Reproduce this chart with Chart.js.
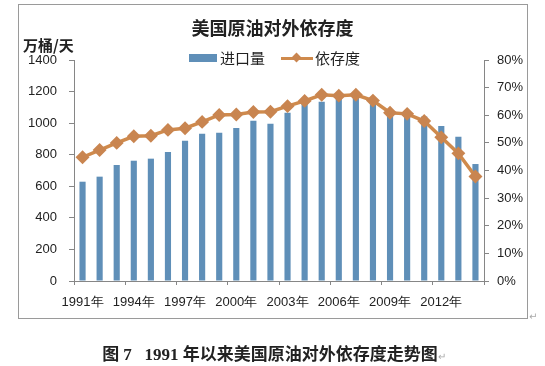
<!DOCTYPE html>
<html>
<head>
<meta charset="utf-8">
<script src="https://cdn.jsdelivr.net/npm/chart.js@4/dist/chart.umd.min.js"></script>
<style>
  body { margin: 0; background: #fff; }
  #wrap { position: relative; width: 545px; height: 366px; }
  #frame { position: absolute; left: 18px; top: 4px; width: 508px; height: 313px; border: 1px solid #9a9a9a; }
  #chart { position: absolute; left: 0; top: 0; }
  .txt { position: absolute; white-space: nowrap; color: #222; font-family: "Noto Sans CJK SC", sans-serif; }
  #unit { left: 23px; top: 35px; font-size: 15px; font-weight: bold; line-height: 20px; }
  #legend { left: 189px; top: 48px; font-size: 15px; line-height: 20px; }
  #legend span { position: absolute; top: 0; }
  .mark { position: absolute; color: #aaa; font-size: 10px; font-family: "DejaVu Sans", sans-serif; }
  #caption { left: 0; width: 548px; text-align: center; top: 344px; font-size: 17px; font-weight: bold;
             font-family: "Liberation Serif", "Noto Sans CJK SC", serif; line-height: 22px; }
</style>
</head>
<body>
<div id="wrap">
  <div id="frame"></div>
  <canvas id="chart" width="545" height="366"></canvas>
  <div class="txt" id="unit">万桶/天</div>
  <div class="txt" id="legend">
    <span style="left:0;top:6px;width:28px;height:8px;background:#5f8fb8"></span>
    <span style="left:31px">进口量</span>
    <span style="left:92px;top:9px;width:32px;height:3px;background:#cf8a4c"></span>
    <span style="left:104px;top:6px;width:7px;height:7px;background:#c98550;transform:rotate(45deg)"></span>
    <span style="left:126px">依存度</span>
  </div>
  <div class="mark" style="left:529px;top:311px">↵</div>
  <div class="txt" id="caption">图 7&nbsp;&nbsp; 1991 年以来美国原油对外依存度走势图<span style="font-size:10px;color:#aaa;font-weight:normal">↵</span></div>
</div>
<script>
// 1991-2014
const years = ["1991", "1992", "1993", "1994", "1995", "1996", "1997", "1998", "1999", "2000", "2001", "2002",
  "2003", "2004", "2005", "2006", "2007", "2008", "2009", "2010", "2011", "2012", "2013", "2014"];
// 进口量 (万桶/天)
const imports = [629, 661, 735, 762, 775, 817, 889, 933, 939, 969, 1015, 996,
  1066, 1121, 1136, 1170, 1180, 1140, 1057, 1055, 1042, 982, 914, 741];
// 依存度 (%)
const dependence = [44.8, 47.4, 50.0, 52.4, 52.6, 54.7, 55.3, 57.6, 60.1, 60.3, 61.2, 61.3,
  63.3, 65.2, 67.4, 67.1, 67.4, 65.3, 60.9, 60.5, 57.9, 52.0, 46.2, 37.8];

const axisGray = "#868686";
const tickFont = { family: "Liberation Sans", size: 13 };

new Chart(document.getElementById("chart"), {
  type: "bar",
  data: {
    labels: years,
    datasets: [
      {
        type: "line",
        label: "依存度",
        data: dependence,
        yAxisID: "y1",
        order: 0,
        borderColor: "#cf8a4c",
        borderWidth: 3.5,
        pointStyle: "rectRot",
        pointRadius: 4.5,
        pointBackgroundColor: "#c98550",
        pointBorderColor: "#c98550",
        tension: 0
      },
      {
        label: "进口量",
        data: imports,
        yAxisID: "y",
        order: 1,
        backgroundColor: "#5f8fb8",
        categoryPercentage: 1,
        barPercentage: 0.36
      }
    ]
  },
  options: {
    responsive: false,
    animation: false,
    layout: { padding: 0 },
    plugins: {
      legend: { display: false },
      tooltip: { enabled: false },
      title: {
        display: true,
        text: "美国原油对外依存度",
        color: "#222",
        font: { family: "Noto Sans CJK SC", size: 18, weight: "bold" },
        padding: { top: 17, bottom: 21.4 }
      }
    },
    scales: {
      x: {
        afterFit: (s) => { s.height = 85; },
        grid: {
          drawOnChartArea: false,
          tickLength: 4,
          color: (ctx) => (ctx.index === undefined || ctx.index % 3 === 0) ? axisGray : "rgba(0,0,0,0)"
        },
        border: { color: axisGray },
        ticks: {
          autoSkip: false,
          maxRotation: 0,
          minRotation: 0,
          padding: 10,
          color: "#222",
          font: tickFont,
          callback: (v, i) => i % 3 === 0 ? years[i] + "年" : ""
        }
      },
      y: {
        position: "left",
        min: 0,
        max: 1400,
        afterFit: (s) => { s.width = 74; },
        grid: { drawOnChartArea: false, tickLength: 5, color: axisGray },
        border: { color: axisGray },
        ticks: { stepSize: 200, padding: 12, color: "#222", font: tickFont, callback: (v) => String(v) }
      },
      y1: {
        position: "right",
        min: 0,
        max: 80,
        afterFit: (s) => { s.width = 61; },
        grid: { drawOnChartArea: false, tickLength: 5, color: axisGray },
        border: { color: axisGray },
        ticks: { stepSize: 10, padding: 8, color: "#222", font: tickFont, callback: (v) => v + "%" }
      }
    }
  }
});
</script>
</body>
</html>
